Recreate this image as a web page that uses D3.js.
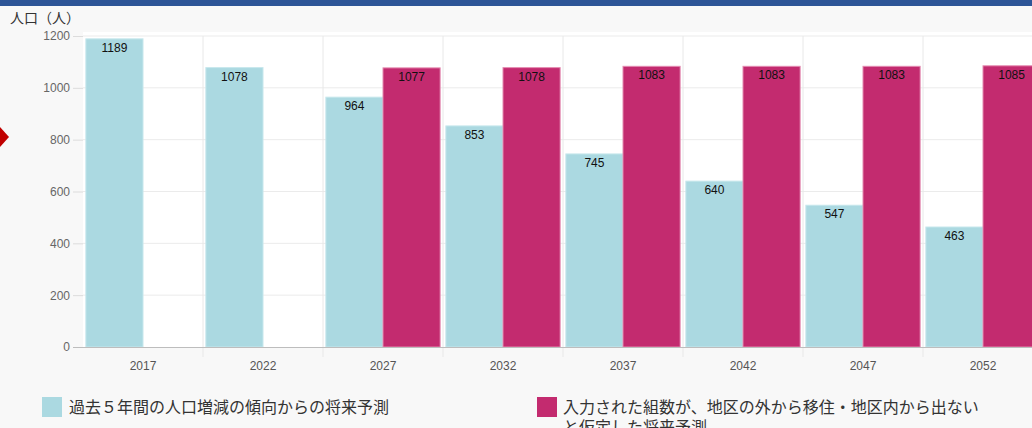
<!DOCTYPE html>
<html><head><meta charset="utf-8">
<script src="https://cdn.jsdelivr.net/npm/d3@7"></script>
<style>
html,body{margin:0;padding:0;background:#f8f8f8;overflow:hidden;}
svg{display:block;}
</style></head>
<body>
<svg id="c" width="1032" height="428"></svg>
<script>
const years = ["2017","2022","2027","2032","2037","2042","2047","2052"];
const trendValues = [1189,1078,964,853,745,640,547,463];
const inputValues = [null,null,1077,1078,1083,1083,1083,1085];
const yTicks = [0,200,400,600,800,1000,1200];
const seriesNames = ["過去５年間の人口増減の傾向からの将来予測","入力された組数が、地区の外から移住・地区内から出ない","と仮定した将来予測"];
const yTitle = "人口（人）";

const svg = d3.select("#c");
const W = 1032, H = 428;
const pLeft = 83, pRight = 1043, pTop = 36, pBottom = 347;
const latin = "'Liberation Sans', Arial, sans-serif";
const cjk = "'Noto Sans CJK JP', sans-serif";

// header band
svg.append("rect").attr("x",0).attr("y",0).attr("width",W).attr("height",6).attr("fill","#2d5597");

const x = d3.scaleBand().domain(years).range([pLeft,pRight]).padding(0);
const x1 = d3.scaleBand().domain(["a","b"]).range([0,x.bandwidth()]).paddingInner(0).paddingOuter(0.05);
const y = d3.scaleLinear().domain([0,1200]).range([pBottom,pTop]);

// plot background
svg.append("rect").attr("x",pLeft).attr("y",pTop-4).attr("width",pRight-pLeft).attr("height",pBottom-pTop+4).attr("fill","#ffffff");

// horizontal grid + y axis
const ya = svg.append("g").attr("transform",`translate(${pLeft},0)`)
  .call(d3.axisLeft(y).tickValues(yTicks).tickSize(10).tickPadding(3).tickFormat(d3.format("d")));
ya.select(".domain").remove();
ya.selectAll(".tick line").attr("stroke","#dcdcdc");
ya.selectAll(".tick text").attr("fill","#666").style("font-family",latin).style("font-size","12px");
svg.append("g").selectAll("line").data(yTicks.filter(d=>d>0)).join("line")
  .attr("x1",pLeft).attr("x2",pRight).attr("y1",d=>y(d)).attr("y2",d=>y(d))
  .attr("stroke","#ebebeb");

// vertical grid at band boundaries
svg.append("g").selectAll("line").data(years.slice(1)).join("line")
  .attr("x1",d=>x(d)).attr("x2",d=>x(d)).attr("y1",pTop).attr("y2",pBottom+10)
  .attr("stroke","#e8e8e8");

// bars
const g = svg.append("g");
years.forEach((yr,i)=>{
  const bx = x(yr);
  const tv = trendValues[i];
  if(tv!=null){
    g.append("rect").attr("x",bx+x1("a")).attr("y",y(tv)).attr("width",x1.bandwidth()).attr("height",y(0)-y(tv))
      .attr("fill","#abd9e1").attr("stroke","#c6e7ec").attr("stroke-width",1);
    g.append("text").attr("x",bx+x1("a")+x1.bandwidth()/2).attr("y",y(tv)+13).attr("text-anchor","middle")
      .attr("fill","#111").style("font-family",latin).style("font-size","12px").text(tv);
  }
  const iv = inputValues[i];
  if(iv!=null){
    g.append("rect").attr("x",bx+x1("b")).attr("y",y(iv)).attr("width",x1.bandwidth()).attr("height",y(0)-y(iv))
      .attr("fill","#c32b6f").attr("stroke","#e48bb0").attr("stroke-width",1);
    g.append("text").attr("x",bx+x1("b")+x1.bandwidth()/2).attr("y",y(iv)+13).attr("text-anchor","middle")
      .attr("fill","#111").style("font-family",latin).style("font-size","12px").text(iv);
  }
});

// x axis
const xa = svg.append("g").attr("transform",`translate(0,${pBottom})`)
  .call(d3.axisBottom(x).tickSize(0).tickPadding(14));
xa.select(".domain").remove();
xa.selectAll(".tick text").attr("fill","#555").style("font-family",latin).style("font-size","12px");
svg.append("line").attr("x1",pLeft-10).attr("x2",pRight).attr("y1",pBottom+0.5).attr("y2",pBottom+0.5).attr("stroke","#bdbdbd");

// y title
svg.append("text").attr("x",10).attr("y",23).attr("fill","#333").style("font-family",cjk).style("font-size","14px").text(yTitle);

// red arrow marker
svg.append("path").attr("d","M0,127 L9,137 L0,147 Z").attr("fill","#c00000");

// legend
svg.append("rect").attr("x",42).attr("y",397).attr("width",20).attr("height",20).attr("fill","#abd9e1");
svg.append("text").attr("x",69).attr("y",413).attr("fill","#333").style("font-family",cjk).style("font-size","16px").text(seriesNames[0]);
svg.append("rect").attr("x",537).attr("y",397).attr("width",20).attr("height",20).attr("fill","#c32b6f");
svg.append("text").attr("x",563).attr("y",413).attr("fill","#333").style("font-family",cjk).style("font-size","16px").text(seriesNames[1]);
svg.append("text").attr("x",563).attr("y",433).attr("fill","#333").style("font-family",cjk).style("font-size","16px").text(seriesNames[2]);
</script>
</body></html>
